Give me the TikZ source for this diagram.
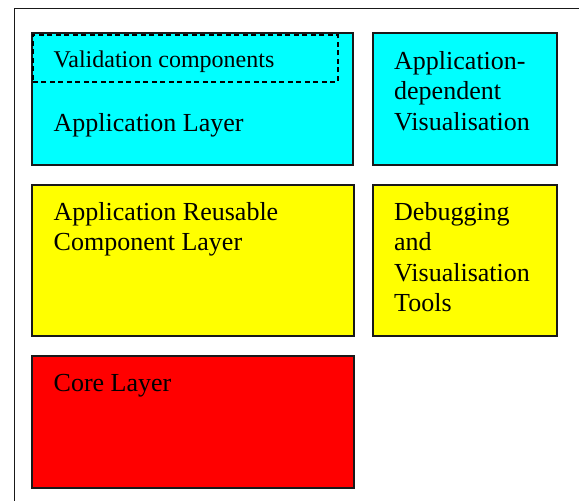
\documentclass[tikz,border=0pt]{standalone}
\usepackage{fontspec}
\setmainfont{Liberation Serif}
\definecolor{cyanfill}{RGB}{0,255,255}
\definecolor{yellowfill}{RGB}{255,255,0}
\definecolor{redfill}{RGB}{255,0,0}
\begin{document}
\begin{tikzpicture}[x=1pt,y=-1pt,
  layerbox/.style={draw=black!90, line width=1.6pt, anchor=north west, inner sep=0pt, outer sep=0pt},
  label/.style={anchor=base west, inner sep=0pt, align=left, font=\fontsize{26}{30.5}\selectfont},
  smalllabel/.style={anchor=base west, inner sep=0pt, font=\fontsize{24}{28}\selectfont}]
\useasboundingbox (0,0) rectangle (579,501);
\clip (0,0) rectangle (579,501);
\fill[white] (0,0) rectangle (579,501);
\node[draw=black!90, line width=1.7pt, anchor=north west, minimum width=600pt, minimum height=520pt, inner sep=0pt] (frame) at (13.5,7.5) {};
% boxes
\node[layerbox, fill=cyanfill, minimum width=321pt, minimum height=132pt] (app) at (32,33) {};
\node[layerbox, fill=cyanfill, minimum width=184pt, minimum height=132pt] (appvis) at (373,33) {};
\node[layerbox, fill=yellowfill, minimum width=322pt, minimum height=151pt] (reuse) at (32,185) {};
\node[layerbox, fill=yellowfill, minimum width=184pt, minimum height=151pt] (debug) at (373,185) {};
\node[layerbox, fill=redfill, minimum width=322pt, minimum height=132pt] (core) at (32,356) {};
\node[draw=black, line width=1.6pt, dash pattern=on 5pt off 3.5pt, anchor=north west, inner sep=0pt, minimum width=305pt, minimum height=47pt] (valid) at (32,34) {};
% texts (base anchor = baseline of the last line)
\node[smalllabel] (tvalid) at (53.5,67) {Validation components};
\node[label] (tapp) at (53.5,131) {Application Layer};
\node[label] (tappvis) at (394,130) {Application-\\dependent\\Visualisation};
\node[label] (treuse) at (53.5,250.5) {Application Reusable\\Component Layer};
\node[label] (tdebug) at (394,311.5) {Debugging\\and\\Visualisation\\Tools};
\node[label] (tcore) at (53.5,391) {Core Layer};
\end{tikzpicture}
\end{document}
